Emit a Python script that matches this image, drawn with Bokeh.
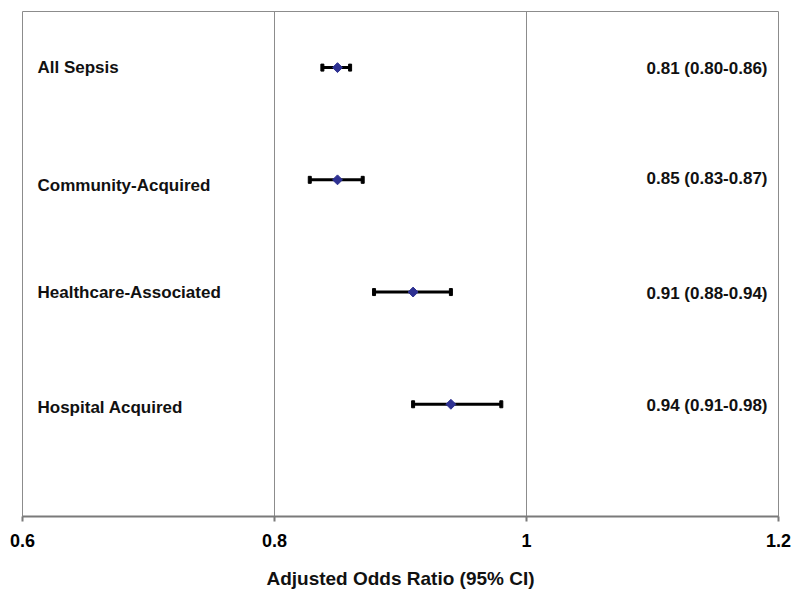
import math
from bokeh.plotting import figure
from bokeh.models import ColumnDataSource, FixedTicker, Range1d
from bokeh.core.properties import value
from bokeh.embed import file_html
from bokeh.resources import INLINE

# ---- data ----
categories = ["All Sepsis", "Community-Acquired", "Healthcare-Associated", "Hospital Acquired"]
rows = [4, 3, 2, 1]
odds_ratio = [0.85, 0.85, 0.91, 0.94]
ci_low = [0.838, 0.828, 0.879, 0.91]
ci_high = [0.86, 0.87, 0.94, 0.98]
annotations = ["0.81 (0.80-0.86)", "0.85 (0.83-0.87)", "0.91 (0.88-0.94)", "0.94 (0.91-0.98)"]
x_ticks = [0.6, 0.8, 1.0, 1.2]
x_tick_labels = ["0.6", "0.8", "1", "1.2"]
x_title = "Adjusted Odds Ratio (95% CI)"

# small per-row vertical nudges (screen px) of the text, as in the original
left_dy = [0, 6, 0, 3]
right_dy = [1, -1, 1, 1]

FONT = value("Liberation Sans")

src = ColumnDataSource(dict(
    cat=categories, y=rows, est=odds_ratio, lo=ci_low, hi=ci_high,
    ann=annotations, ldy=left_dy, rdy=right_dy,
    xl=[x_ticks[0]] * len(rows), xr=[x_ticks[-1]] * len(rows),
))

p = figure(width=800, height=603, output_backend="svg", toolbar_location=None,
           x_range=Range1d(x_ticks[0], x_ticks[-1]), y_range=Range1d(0, 4.5),
           min_border_left=22, min_border_right=22, min_border_top=11, min_border_bottom=87,
           y_axis_location=None)
p.background_fill_color = "white"
p.border_fill_color = "white"
p.outline_line_color = "#8c8c8c"
p.outline_line_width = 1

p.ygrid.visible = False
p.xgrid.ticker = FixedTicker(ticks=x_ticks)
p.xgrid.grid_line_color = "#8c8c8c"
p.xgrid.grid_line_width = 1

ax = p.xaxis[0]
ax.ticker = FixedTicker(ticks=x_ticks)
ax.major_label_overrides = {t: l for t, l in zip(x_ticks, x_tick_labels)}
ax.minor_tick_line_color = None
ax.axis_line_color = "#7a7a7a"
ax.axis_line_width = 2
ax.major_tick_line_color = "#7a7a7a"
ax.major_tick_line_width = 2
ax.major_tick_in = 0
ax.major_tick_out = 5
ax.major_label_standoff = 12
ax.major_label_text_font = "Liberation Sans"
ax.major_label_text_font_style = "bold"
ax.major_label_text_font_size = "18px"
ax.major_label_text_color = "black"
ax.axis_label = x_title
ax.axis_label_text_font = "Liberation Sans"
ax.axis_label_text_font_style = "bold"
ax.axis_label_text_font_size = "19px"
ax.axis_label_text_color = "#111111"
ax.axis_label_standoff = 18

# error bars
p.segment(x0="lo", y0="y", x1="hi", y1="y", source=src, line_color="black", line_width=3)
p.rect(x="lo", y="y", width=3, height=7, width_units="screen", height_units="screen",
       source=src, fill_color="black", line_color="black", line_width=1)
p.rect(x="hi", y="y", width=3, height=7, width_units="screen", height_units="screen",
       source=src, fill_color="black", line_color="black", line_width=1)
# point estimates
p.scatter(x="est", y="y", source=src, marker="square", angle=math.pi / 4, size=7,
          fill_color="#2E3192", line_color="#2E3192")

# labels
p.text(x="xl", y="y", text="cat", source=src, x_offset=15, y_offset="ldy",
       text_font=FONT, text_font_style="bold", text_font_size="17px",
       text_baseline="middle", text_align="left", text_color="#111111")
p.text(x="xr", y="y", text="ann", source=src, x_offset=-11, y_offset="rdy",
       text_font=FONT, text_font_style="bold", text_font_size="17px",
       text_baseline="middle", text_align="right", text_color="#111111")

open("out.html", "w").write(file_html(p, INLINE))
